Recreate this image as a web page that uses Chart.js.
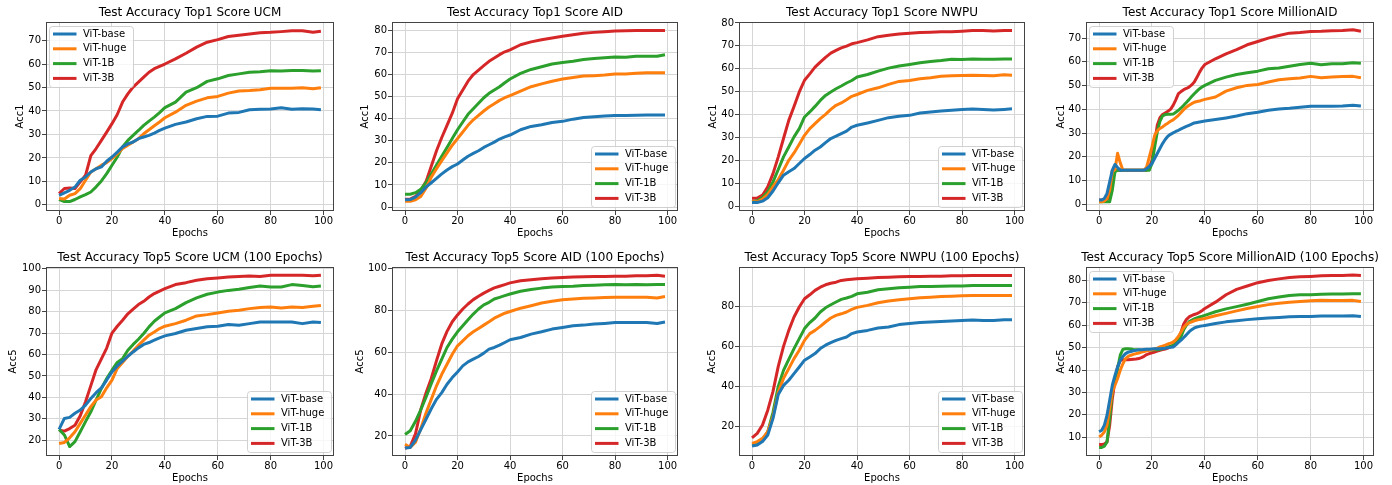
<!DOCTYPE html>
<html>
<head>
<meta charset="utf-8">
<script src="https://cdn.jsdelivr.net/npm/chart.js@4.4.0/dist/chart.umd.min.js"></script>
<style>
  body { margin: 0; background: #fff; width: 1392px; height: 485px; overflow: hidden; position: relative; }
  canvas { position: absolute; }
</style>
</head>
<body>
<script>
// epochs (MillionAID curves need every epoch early on)
const epochs = [0,2,4,6,8,10,12,14,16,18,20,22,24,26,28,30,32,34,36,38,40,44,48,52,56,60,64,68,72,76,80,84,88,92,96,99]
const epochsFine = [0,1,2,3,4,5,6,7,8,9,10,11,12,13,14,15,16,17,18,19,20,21,22,23,24,25,26,27,28,29,30,31,32,33,34,35,36,37,38,39,40,44,48,52,56,60,64,68,72,76,80,84,88,92,96,99]

const seriesNames = ['ViT-base', 'ViT-huge', 'ViT-1B', 'ViT-3B']
const seriesColors = ['#1f77b4', '#ff7f0e', '#2ca02c', '#d62728']

// tick labels
const xTicks = [0, 20, 40, 60, 80, 100]
const ticks0to70 = [0, 10, 20, 30, 40, 50, 60, 70]
const ticks0to80 = [0, 10, 20, 30, 40, 50, 60, 70, 80]
const ticks20to100 = [20, 30, 40, 50, 60, 70, 80, 90, 100]
const ticks20to100by20 = [20, 40, 60, 80, 100]
const ticks20to80by20 = [20, 40, 60, 80]
const ticks10to80 = [10, 20, 30, 40, 50, 60, 70, 80]

// Top1 UCM
const ucm1Base = [4.1,5.1,6.2,7.6,10.5,11.9,14.0,15.4,16.2,18.6,20.4,22.5,24.7,26.0,26.8,28.2,28.9,29.6,30.6,31.7,32.7,34.3,35.3,36.7,37.7,37.8,39.1,39.4,40.5,40.7,40.8,41.4,40.7,41.0,40.8,40.5]
const ucm1Huge = [2.7,2.5,4.1,4.8,6.9,10.5,14.0,15.4,16.9,18.0,19.7,21.8,24.0,25.4,26.8,28.2,30.3,32.0,33.7,35.3,37.1,39.5,42.4,44.2,45.6,46.2,47.6,48.5,48.7,49.0,49.7,49.7,49.7,49.9,49.5,49.9]
const ucm1B1 = [2.4,1.4,1.4,2.3,3.4,4.4,5.5,7.7,10.2,13.3,16.9,20.4,24.7,27.5,29.6,31.7,33.9,35.7,37.4,39.3,41.4,43.8,48.0,49.9,52.6,53.7,55.1,55.8,56.5,56.7,57.1,57.0,57.2,57.2,57.0,57.1]
const ucm1B3 = [4.8,7.0,7.2,7.0,9.8,12.6,21.0,24.0,27.5,31.0,34.6,38.5,43.8,47.3,50.2,52.3,54.4,56.5,58.0,59.0,60.0,62.2,64.6,67.2,69.3,70.4,71.7,72.3,72.8,73.3,73.5,73.8,74.2,74.2,73.5,74.0]

// Top1 AID
const aid1Base = [3.3,3.4,4.5,6.5,9.0,11.0,13.0,15.0,16.8,18.3,19.5,21.3,23.0,24.3,25.5,27.0,28.2,29.4,30.8,31.8,32.6,35.0,36.5,37.3,38.3,38.8,39.8,40.5,40.9,41.2,41.4,41.4,41.6,41.7,41.7,41.7]
const aid1Huge = [2.6,2.6,3.3,4.8,8.5,13.5,17.3,21.0,24.5,28.0,31.0,34.0,37.0,39.5,41.5,43.5,45.3,46.8,48.3,49.5,50.5,52.5,54.5,55.8,57.0,58.0,58.7,59.3,59.5,59.8,60.3,60.3,60.6,60.8,60.8,60.8]
const aid1B1 = [5.8,5.8,6.5,8.0,11.0,15.0,19.0,23.0,27.0,31.0,35.0,38.5,42.0,44.5,47.0,49.5,51.5,53.0,54.5,56.3,58.0,60.5,62.3,63.5,64.8,65.5,66.0,66.8,67.3,67.6,68.0,67.8,68.3,68.3,68.3,69.0]
const aid1B3 = [3.5,3.6,4.8,7.5,11.5,18.5,25.5,31.5,37.0,42.5,49.0,53.0,57.0,60.0,62.0,64.0,66.0,67.5,69.0,70.3,71.2,73.5,74.8,75.8,76.6,77.3,78.0,78.7,79.1,79.4,79.7,79.8,79.9,80.0,80.0,80.0]

// Top1 NWPU
const nwpu1Base = [1.7,1.7,2.3,3.8,6.7,10.3,13.6,15.1,16.5,18.7,20.9,22.6,24.5,25.9,27.8,29.6,30.6,31.7,32.8,34.6,35.4,36.4,37.5,38.7,39.3,39.7,40.7,41.2,41.6,41.9,42.2,42.5,42.2,42.0,42.3,42.6]
const nwpu1Huge = [2.0,2.0,3.2,5.2,8.6,11.7,15.8,20.1,23.3,27.1,31.0,33.9,36.1,38.3,40.1,42.3,44.1,45.1,46.5,48.0,48.8,50.6,51.7,53.2,54.5,54.9,55.7,56.1,56.7,57.0,57.1,57.2,57.1,57.0,57.4,57.2]
const nwpu1B1 = [2.0,2.5,3.9,6.4,10.7,16.1,21.6,25.9,30.3,33.9,39.0,41.2,43.6,46.2,48.4,49.9,51.3,52.5,53.8,54.9,56.4,57.5,59.0,60.3,61.2,61.9,62.6,63.2,63.6,64.2,64.1,64.3,64.2,64.2,64.3,64.3]
const nwpu1B3 = [3.6,3.6,4.9,8.6,14.3,21.6,29.6,37.5,43.6,49.9,55.0,57.8,60.7,62.9,65.0,66.8,68.0,69.1,69.9,70.9,71.4,72.6,74.0,74.6,75.2,75.5,75.8,75.9,76.1,76.2,76.4,76.7,76.7,76.5,76.7,76.7]

// Top1 MillionAID (epochsFine)
const mil1Base = [1.8,1.8,2.5,4.6,9.5,14.4,16.8,15.5,14.4,14.4,14.4,14.4,14.4,14.4,14.4,14.4,14.4,14.4,15.0,16.0,17.2,19.3,21.4,23.5,25.6,27.3,28.7,29.5,30.1,30.7,31.2,31.8,32.3,32.8,33.3,33.8,34.3,34.5,34.7,34.9,35.1,35.7,36.4,37.2,38.2,38.8,39.6,40.2,40.5,40.9,41.3,41.3,41.3,41.4,41.7,41.4]
const mil1Huge = [1.1,1.1,1.4,2.5,6.0,13.7,14.6,21.5,17.5,14.4,14.4,14.4,14.4,14.4,14.4,14.4,14.4,14.4,15.8,20.0,24.2,29.0,31.0,32.0,32.6,33.5,34.2,35.0,35.6,36.5,37.5,38.7,39.9,40.9,41.7,42.4,43.0,43.3,43.5,43.9,44.2,45.2,47.7,49.1,50.1,50.5,51.5,52.5,52.9,53.2,53.9,53.3,53.6,53.8,53.9,53.3]
const mil1B1 = [1.1,1.1,1.1,1.1,1.1,6.0,13.7,14.4,14.4,14.4,14.4,14.4,14.4,14.4,14.4,14.4,14.4,14.4,14.4,14.4,17.2,24.0,30.5,35.0,37.3,37.8,37.9,37.9,38.0,38.8,39.6,40.6,41.7,42.9,44.1,45.4,46.6,47.7,48.7,49.5,50.1,52.2,53.6,54.7,55.4,56.1,57.1,57.4,58.2,58.9,59.4,58.8,59.2,59.2,59.6,59.4]
const mil1B3 = [1.8,1.8,1.8,2.1,3.2,14.2,14.4,14.4,14.4,14.4,14.4,14.4,14.4,14.4,14.4,14.4,14.4,14.4,14.4,15.5,18.6,26.0,33.3,36.5,37.8,38.5,39.2,40.0,41.7,44.0,46.6,47.5,48.3,48.8,49.4,50.3,51.5,53.5,55.7,57.5,58.9,61.3,63.4,65.2,67.2,68.6,70.0,71.1,72.1,72.4,72.8,72.9,73.1,73.2,73.5,72.9]

// Top5 UCM
const ucm5Base = [25.1,30.2,30.7,32.6,34.1,36.4,39.5,42.2,44.5,48.1,51.9,54.7,56.9,59.2,61.2,63.1,64.7,65.6,66.7,67.8,68.7,69.8,71.3,72.1,72.9,73.2,74.0,73.6,74.4,75.2,75.2,75.2,75.2,74.4,75.2,74.9]
const ucm5Huge = [18.5,19.0,21.2,24.0,27.9,31.8,35.7,38.8,40.3,44.5,48.1,53.5,56.3,59.2,61.6,64.3,66.7,69.0,70.5,72.1,73.2,74.4,76.0,78.0,78.6,79.4,80.2,80.6,81.4,81.9,82.2,81.7,82.2,81.9,82.5,82.9]
const ucm5B1 = [25.1,22.5,17.1,19.4,24.0,28.7,33.3,38.8,44.2,48.8,52.7,56.3,58.1,62.0,64.7,67.1,69.8,72.9,75.5,77.5,79.4,81.4,84.2,86.4,88.1,89.1,89.9,90.4,91.2,91.9,91.5,91.5,92.6,92.2,91.6,91.9]
const ucm5B3 = [24.8,24.3,25.5,27.0,31.5,38.0,45.5,53.0,58.0,63.0,70.0,73.2,76.0,79.0,81.2,83.3,84.8,86.8,88.4,89.6,90.7,92.6,93.5,94.6,95.3,95.7,96.1,96.4,96.6,96.4,96.9,96.9,97.0,96.9,96.7,97.0]

// Top5 AID
const aid5Base = [14.2,14.5,18.0,23.0,28.0,33.0,37.5,40.7,44.7,47.9,50.6,53.5,55.4,56.7,58.0,59.6,61.5,62.3,63.4,64.7,66.0,67.1,68.7,69.8,71.1,71.9,72.7,73.0,73.5,73.8,74.2,74.3,74.3,74.3,73.8,74.5]
const aid5Huge = [16.0,14.5,17.0,23.5,31.0,37.5,44.0,49.5,54.3,59.1,63.1,65.5,67.9,69.8,71.4,73.0,74.6,76.3,77.5,78.7,79.5,81.1,82.3,83.6,84.4,85.1,85.5,85.9,86.0,86.2,86.3,86.3,86.3,86.3,86.0,86.7]
const aid5B1 = [20.7,22.5,27.0,32.5,38.5,45.0,51.1,56.7,62.3,66.3,69.8,72.7,75.6,78.3,80.7,82.7,83.9,85.5,86.3,87.1,87.9,89.2,90.0,90.7,91.2,91.5,91.6,92.0,92.1,92.3,92.4,92.3,92.4,92.3,92.4,92.4]
const aid5B3 = [14.0,15.0,21.0,32.5,40.5,47.5,56.0,64.0,70.0,74.6,77.9,80.7,83.1,85.2,86.8,88.3,89.6,90.8,91.6,92.4,93.2,94.2,94.7,95.2,95.5,95.8,96.0,96.1,96.3,96.3,96.4,96.4,96.6,96.6,96.8,96.4]

// Top5 NWPU
const nwpu5Base = [10.2,10.7,12.4,15.7,24.0,36.0,40.5,43.1,46.4,49.7,53.1,54.7,56.4,58.9,60.6,61.9,63.0,63.9,64.7,66.4,67.2,68.0,69.2,69.7,70.9,71.4,71.9,72.2,72.5,72.7,73.0,73.2,73.0,72.9,73.3,73.3]
const nwpu5Huge = [11.5,12.4,14.0,17.3,25.0,37.0,44.0,48.9,53.9,58.1,63.0,66.4,68.0,70.0,72.2,74.2,75.5,76.3,77.2,78.5,79.5,80.5,81.8,82.7,83.3,83.8,84.3,84.6,85.0,85.1,85.3,85.5,85.5,85.5,85.5,85.5]
const nwpu5B1 = [10.7,11.0,13.2,17.3,27.0,40.0,48.0,53.5,58.9,63.9,68.9,71.9,74.2,77.2,79.3,80.8,82.2,83.5,84.2,85.0,86.3,87.1,88.3,88.8,89.3,89.6,89.9,89.9,90.1,90.2,90.2,90.4,90.4,90.4,90.4,90.4]
const nwpu5B3 = [14.3,16.5,20.7,28.1,37.5,50.0,60.0,68.0,74.7,79.7,83.8,85.8,88.0,89.6,90.8,91.6,92.1,93.0,93.3,93.6,93.8,94.1,94.5,94.6,94.8,95.0,95.0,95.1,95.1,95.3,95.3,95.4,95.4,95.4,95.4,95.4]

// Top5 MillionAID (epochsFine)
const mil5Base = [12.4,13.1,15.4,19.8,26.5,33.2,37.6,41.4,44.3,46.1,47.3,48.0,48.3,48.6,48.8,49.0,49.1,49.2,49.3,49.3,49.4,49.5,49.5,49.5,49.6,49.7,49.9,50.1,50.3,51.2,52.3,53.3,54.5,55.7,57.0,58.0,58.8,59.2,59.5,59.7,59.9,60.8,61.5,62.0,62.5,62.9,63.2,63.5,63.8,63.9,63.9,64.1,64.1,64.1,64.2,63.9]
const mil5Huge = [10.1,10.9,12.4,15.4,22.8,30.2,33.2,36.2,39.9,42.8,45.1,46.1,46.6,47.0,47.3,47.6,48.0,48.3,48.6,48.8,49.0,49.4,49.8,50.3,50.7,51.1,51.6,52.0,52.5,53.5,55.0,57.0,59.0,60.3,61.0,61.5,62.0,62.3,62.6,62.8,63.0,64.2,65.3,66.4,67.5,68.4,69.2,69.8,70.3,70.6,70.9,71.1,71.0,71.0,71.1,70.6]
const mil5B1 = [5.4,5.4,6.0,7.9,18.3,30.2,35.4,40.6,46.6,49.2,49.5,49.5,49.4,49.2,49.1,49.0,48.8,48.8,48.9,48.9,48.9,49.0,49.1,49.2,49.5,49.9,50.3,50.6,51.0,52.0,53.0,55.0,58.0,60.0,61.5,62.2,62.8,63.3,63.7,64.0,64.4,66.0,67.3,68.3,69.4,70.6,71.8,72.6,73.3,73.6,73.6,73.8,73.9,73.9,74.0,74.0]
const mil5B3 = [6.7,6.7,7.0,7.9,15.3,27.2,35.4,41.4,44.3,44.6,44.6,44.6,44.7,44.8,44.9,45.1,45.5,46.1,46.9,47.3,47.7,48.0,48.4,48.8,49.1,49.4,49.8,50.3,51.0,52.5,54.0,57.0,60.5,62.5,63.7,64.3,64.8,65.2,65.8,66.6,67.5,70.3,73.6,76.0,77.5,79.0,80.0,80.7,81.3,81.6,81.8,82.1,82.2,82.2,82.4,82.2]

Chart.defaults.font.family = '"DejaVu Sans"'
Chart.defaults.color = '#000'

const panels = [
    { title: 'Test Accuracy Top1 Score UCM', ylabel: 'Acc1', x: epochs, series: [ucm1Base, ucm1Huge, ucm1B1, ucm1B3], yMin: -2.6, yMax: 77.9, yTicks: ticks0to70, rect: [46, 22, 334, 211], ylabOff: 26, legend: 'ul' },
    { title: 'Test Accuracy Top1 Score AID', ylabel: 'Acc1', x: epochs, series: [aid1Base, aid1Huge, aid1B1, aid1B3], yMin: -1.8, yMax: 83.8, yTicks: ticks0to80, rect: [392, 22, 678, 211], ylabOff: 27, legend: 'lr' },
    { title: 'Test Accuracy Top1 Score NWPU', ylabel: 'Acc1', x: epochs, series: [nwpu1Base, nwpu1Huge, nwpu1B1, nwpu1B3], yMin: -2.0, yMax: 80.4, yTicks: ticks0to80, rect: [739, 22, 1025, 211], ylabOff: 26, legend: 'lr' },
    { title: 'Test Accuracy Top1 Score MillionAID', ylabel: 'Acc1', x: epochsFine, series: [mil1Base, mil1Huge, mil1B1, mil1B3], yMin: -2.8, yMax: 76.8, yTicks: ticks0to70, rect: [1086, 22, 1374, 211], ylabOff: 25, legend: 'ul' },
    { title: 'Test Accuracy Top5 Score UCM (100 Epochs)', ylabel: 'Acc5', x: epochs, series: [ucm5Base, ucm5Huge, ucm5B1, ucm5B3], yMin: 12.7, yMax: 100.8, yTicks: ticks20to100, rect: [46, 267, 334, 456], ylabOff: 33, legend: 'lr' },
    { title: 'Test Accuracy Top5 Score AID (100 Epochs)', ylabel: 'Acc5', x: epochs, series: [aid5Base, aid5Huge, aid5B1, aid5B3], yMin: 10.4, yMax: 100.8, yTicks: ticks20to100by20, rect: [392, 267, 678, 456], ylabOff: 32, legend: 'lr' },
    { title: 'Test Accuracy Top5 Score NWPU (100 Epochs)', ylabel: 'Acc5', x: epochs, series: [nwpu5Base, nwpu5Huge, nwpu5B1, nwpu5B3], yMin: 5.2, yMax: 99.7, yTicks: ticks20to80by20, rect: [739, 267, 1025, 456], ylabOff: 27, legend: 'lr' },
    { title: 'Test Accuracy Top5 Score MillionAID (100 Epochs)', ylabel: 'Acc5', x: epochsFine, series: [mil5Base, mil5Huge, mil5B1, mil5B3], yMin: 1.6, yMax: 86.0, yTicks: ticks10to80, rect: [1086, 267, 1374, 456], ylabOff: 25, legend: 'ul' }
]

const Y_AXIS_W = 40
const X_AXIS_H = 28
const TITLE_H = 22
const PAD_R = 40   // same as the y axis width so the full-width title centres over the plot

// matplotlib-style box around the axes
const framePlugin = {
    id: 'frame',
    afterDatasetsDraw(chart) {
        const { ctx, chartArea: a } = chart
        ctx.save()
        ctx.strokeStyle = '#444'
        ctx.lineWidth = 1
        ctx.strokeRect(Math.round(a.left) + 0.5, Math.round(a.top) + 0.5, Math.round(a.right - a.left) - 1, Math.round(a.bottom - a.top) - 1)
        ctx.restore()
    }
}

// legend box inside the axes, like plt.legend()
const legendPlugin = {
    id: 'boxLegend',
    afterDraw(chart, args, opts) {
        const { ctx, chartArea: a } = chart
        const w = 84, h = 61
        const x = opts.corner === 'ul' ? a.left + 3 : a.right - 3 - w
        const y = opts.corner === 'ul' ? a.top + 4 : a.bottom - 4 - h
        ctx.save()
        ctx.beginPath()
        ctx.roundRect(x + 0.5, y + 0.5, w, h, 3)
        ctx.fillStyle = 'rgba(255,255,255,0.8)'
        ctx.fill()
        ctx.strokeStyle = 'rgba(204,204,204,0.9)'
        ctx.lineWidth = 1
        ctx.stroke()
        ctx.font = '10px "DejaVu Sans"'
        ctx.textBaseline = 'middle'
        chart.data.datasets.forEach((ds, i) => {
            const yy = y + 8 + i * 14.8
            ctx.strokeStyle = ds.borderColor
            ctx.lineWidth = 3
            ctx.beginPath()
            ctx.moveTo(x + 4, yy)
            ctx.lineTo(x + 27.5, yy)
            ctx.stroke()
            ctx.fillStyle = '#000'
            ctx.fillText(ds.label, x + 34, yy)
        })
        ctx.restore()
    }
}

function makePanel(p) {
    const [l, t, r, b] = p.rect
    const canvas = document.createElement('canvas')
    const w = (r - l) + Y_AXIS_W + PAD_R
    const h = (b - t) + TITLE_H + X_AXIS_H
    canvas.width = w
    canvas.height = h
    canvas.style.left = (l - Y_AXIS_W) + 'px'
    canvas.style.top = (t - TITLE_H) + 'px'
    canvas.style.width = w + 'px'
    canvas.style.height = h + 'px'
    document.body.appendChild(canvas)

    const datasets = seriesNames.map((name, i) => ({
        label: name,
        data: p.x.map((e, j) => ({ x: e, y: p.series[i][j] })),
        borderColor: seriesColors[i],
        backgroundColor: seriesColors[i],
        borderWidth: 3,
        borderJoinStyle: 'round',
        pointRadius: 0,
        tension: 0,
        fill: false
    }))

    const gridOpts = { color: '#d6d6d6', lineWidth: 1, tickLength: 4, tickColor: '#444', tickWidth: 1, drawTicks: true }

    new Chart(canvas, {
        type: 'line',
        data: { datasets },
        options: {
            responsive: false,
            animation: false,
            layout: { padding: 0 },
            plugins: {
                legend: { display: false },
                tooltip: { enabled: false },
                title: {
                    display: true,
                    text: p.title,
                    color: '#000',
                    font: { size: 12, weight: 'normal', lineHeight: '14px' },
                    padding: { top: 6, bottom: 2 }
                },
                boxLegend: { corner: p.legend }
            },
            scales: {
                x: {
                    type: 'linear',
                    min: -4.95,
                    max: 103.95,
                    afterBuildTicks: s => { s.ticks = xTicks.map(v => ({ value: v })) },
                    // reserve the empty strip on the right through the axis padding,
                    // so the title still spans the whole canvas
                    afterFit: s => { s.height = X_AXIS_H; s.paddingRight = PAD_R },
                    grid: gridOpts,
                    border: { display: false },
                    ticks: { autoSkip: false, maxRotation: 0, padding: 1, color: '#000', font: { size: 10, lineHeight: 1 } },
                    title: { display: true, text: 'Epochs', color: '#000', font: { size: 10, lineHeight: 1.2 }, padding: { top: 0, bottom: -0.5 } }
                },
                y: {
                    type: 'linear',
                    min: p.yMin,
                    max: p.yMax,
                    afterBuildTicks: s => { s.ticks = p.yTicks.map(v => ({ value: v })) },
                    afterFit: s => { s.width = Y_AXIS_W },
                    grid: gridOpts,
                    border: { display: false },
                    ticks: { autoSkip: false, padding: 1, color: '#000', font: { size: 10, lineHeight: 1 } },
                    title: { display: true, text: p.ylabel, color: '#000', font: { size: 10, lineHeight: 1.2 }, padding: { top: Y_AXIS_W - p.ylabOff - 6, bottom: 0 } }
                }
            }
        },
        plugins: [framePlugin, legendPlugin]
    })
}

panels.forEach(makePanel)
</script>
</body>
</html>
